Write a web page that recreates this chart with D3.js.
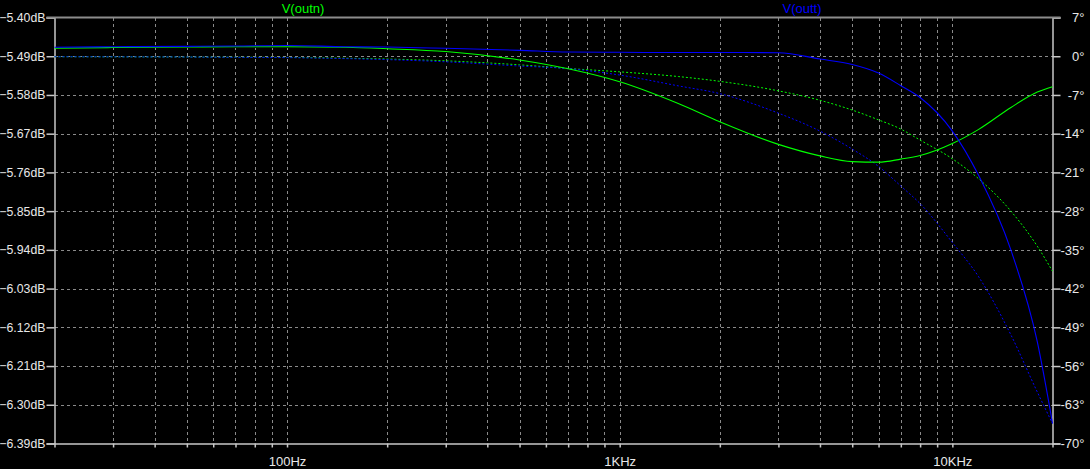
<!DOCTYPE html>
<html><head><meta charset="utf-8">
<script src="https://cdn.jsdelivr.net/npm/d3@7"></script>
<style>html,body{margin:0;padding:0;background:#000;overflow:hidden}</style>
</head><body>
<svg id="chart" width="1090" height="469"></svg>
<script>
const freqs = [20,30,50,70,100,150,200,300,500,700,1000,1500,2000,3000,4000,5000,6000,7000,8000,10000,12000,15000,18000,20000];
const outnMag = [-5.4716,-5.4698,-5.4686,-5.4679,-5.4679,-5.4693,-5.4726,-5.4791,-5.4988,-5.5193,-5.5495,-5.6000,-5.6423,-5.6949,-5.7216,-5.7349,-5.7361,-5.7291,-5.7209,-5.6930,-5.6600,-5.6091,-5.5733,-5.5609];
const outnPhase = [-0.090,-0.109,-0.145,-0.181,-0.217,-0.362,-0.506,-0.832,-1.556,-2.207,-2.822,-3.672,-4.540,-6.258,-7.959,-9.731,-11.504,-13.168,-15.158,-18.540,-22.158,-28.000,-34.331,-38.853];
const outtMag = [-5.4693,-5.4679,-5.4670,-5.4663,-5.4651,-5.4679,-5.4686,-5.4716,-5.4763,-5.4802,-5.4809,-5.4814,-5.4814,-5.4819,-5.4965,-5.5093,-5.5291,-5.5584,-5.5860,-5.6640,-5.7674,-5.9407,-6.1535,-6.3430];
const outtPhase = [-0.090,-0.109,-0.145,-0.199,-0.253,-0.434,-0.615,-1.013,-1.773,-2.243,-3.401,-5.354,-6.765,-10.292,-13.530,-16.786,-19.915,-23.460,-26.644,-33.662,-39.884,-50.375,-60.685,-66.401];
const magTicks = [-5.40,-5.49,-5.58,-5.67,-5.76,-5.85,-5.94,-6.03,-6.12,-6.21,-6.30,-6.39];
const phaseTicks = [7,0,-7,-14,-21,-28,-35,-42,-49,-56,-63,-70];
const freqGrid = [30,40,50,60,70,80,90,100,200,300,400,500,600,700,800,900,1000,2000,3000,4000,5000,6000,7000,8000,9000,10000];
const freqLabelValues = [100,1000,10000];
const freqLabels = ["100Hz","1KHz","10KHz"];
const seriesNames = ["V(outn)","V(outt)"];
const seriesColors = ["#00ff00","#0000ff"];

const svg = d3.select("#chart");
const L = 54.5, R = 1052.5, T = 17.5, B = 443.5;
const x = d3.scaleLog().domain([20,20000]).range([L,R]);
const yM = d3.scaleLinear().domain([-6.39,-5.40]).range([B,T]);
const yP = d3.scaleLinear().domain([-70,7]).range([B,T]);
const font = "Liberation Sans, Arial, sans-serif";
const txtCol = "#e8e8e8";
const gridCol = "#8a8a8a";

// grid
svg.append("g").selectAll("line").data(magTicks.slice(1,-1)).join("line")
  .attr("x1",L).attr("x2",R).attr("y1",d=>Math.round(yM(d))+0.5).attr("y2",d=>Math.round(yM(d))+0.5)
  .attr("stroke",gridCol).attr("stroke-width",1).attr("stroke-dasharray","3,3").attr("shape-rendering","crispEdges");
svg.append("g").selectAll("line").data(freqGrid).join("line")
  .attr("x1",d=>Math.round(x(d))+0.5).attr("x2",d=>Math.round(x(d))+0.5).attr("y1",T).attr("y2",B)
  .attr("stroke",gridCol).attr("stroke-width",1).attr("stroke-dasharray","3,3").attr("shape-rendering","crispEdges");

// axes
const axL = svg.append("g").attr("transform",`translate(${L},0)`)
  .call(d3.axisLeft(yM).tickValues(magTicks).tickFormat(d=>d3.format(".2f")(d)+"dB").tickSize(8).tickPadding(1));
const axR = svg.append("g").attr("transform",`translate(${R},0)`)
  .call(d3.axisRight(yP).tickValues(phaseTicks).tickFormat(d=>d+"°").tickSize(8).tickPadding(0));
const axB = svg.append("g").attr("transform",`translate(0,${B})`)
  .call(d3.axisBottom(x).tickValues(freqGrid).tickFormat(d=>{const i=freqLabelValues.indexOf(d);return i>=0?freqLabels[i]:"";}).tickSize(4).tickPadding(6));
[axL,axR,axB].forEach(a=>{
  a.select(".domain").attr("stroke","#c8c8c8").attr("stroke-width",1.5);
  a.selectAll(".tick line").attr("stroke","#c8c8c8").attr("stroke-width",1.5);
  a.selectAll("text").attr("fill",txtCol).attr("font-family",font).attr("font-size",13);
});
axL.selectAll(".tick text").attr("font-size",12.3);
axR.selectAll(".tick text").attr("text-anchor","end").attr("x",32);
axB.selectAll(".tick text").attr("dy","0.95em");
// top border
svg.append("line").attr("x1",L-8).attr("x2",R+8).attr("y1",T).attr("y2",T)
  .attr("stroke","#8c8c8c").attr("stroke-width",2);

// curves
const mkLine = (ys, yscale) => d3.line().x((d,i)=>x(freqs[i])).y(d=>yscale(d)).curve(d3.curveMonotoneX)(ys);
const g = svg.append("g");
g.append("path").attr("d",mkLine(outnPhase,yP)).attr("fill","none").attr("stroke",seriesColors[0]).attr("stroke-width",1).attr("stroke-dasharray","2,2");
g.append("path").attr("d",mkLine(outtPhase,yP)).attr("fill","none").attr("stroke",seriesColors[1]).attr("stroke-width",1).attr("stroke-dasharray","2,2");
g.append("path").attr("d",mkLine(outnMag,yM)).attr("fill","none").attr("stroke",seriesColors[0]).attr("stroke-width",1.1);
g.append("path").attr("d",mkLine(outtMag,yM)).attr("fill","none").attr("stroke",seriesColors[1]).attr("stroke-width",1.1);

// legend titles
svg.append("text").attr("x",303).attr("y",13).attr("text-anchor","middle").attr("fill",seriesColors[0])
  .attr("font-family",font).attr("font-size",13).text(seriesNames[0]);
svg.append("text").attr("x",802).attr("y",13).attr("text-anchor","middle").attr("fill",seriesColors[1])
  .attr("font-family",font).attr("font-size",13).text(seriesNames[1]);
</script>
</body></html>
